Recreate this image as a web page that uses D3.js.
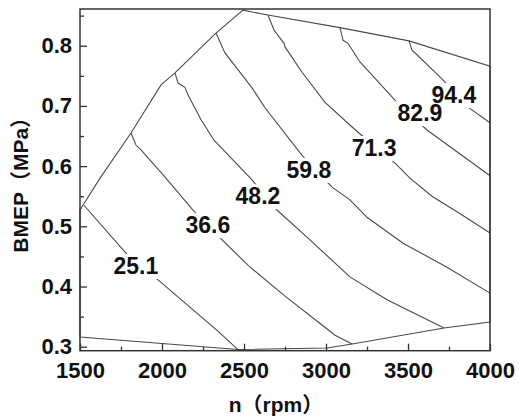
<!DOCTYPE html>
<html>
<head>
<meta charset="utf-8">
<script src="https://cdn.jsdelivr.net/npm/d3@7"></script>
<style>
  html, body { margin: 0; padding: 0; background: #fff; }
  svg { display: block; }
</style>
</head>
<body>
<svg id="chart" width="519" height="416"></svg>
<script>
// ---- Data (rpm, BMEP MPa) ----
const xMajorTicks = [1500, 2000, 2500, 3000, 3500, 4000];
const xMinorTicks = [1750, 2250, 2750, 3250, 3750];
const yMajorTicks = [0.3, 0.4, 0.5, 0.6, 0.7, 0.8];
const yMinorTicks = [0.35, 0.45, 0.55, 0.65, 0.75, 0.85];

// operating-region boundary
const boundary = [
  [1500, 0.527], [1622, 0.580], [1811, 0.655], [1994, 0.735], [2079, 0.755],
  [2329, 0.821], [2494, 0.859], [2646, 0.851], [3085, 0.830], [3506, 0.808],
  [4000, 0.766], [4000, 0.341], [3720, 0.331], [3159, 0.3045], [3006, 0.298],
  [2463, 0.2953], [1500, 0.316]
];

const contourLevels = ["25.1", "36.6", "48.2", "59.8", "71.3", "82.9", "94.4"];

const c251 = [[1524, 0.535], [1811, 0.446], [1976, 0.411], [2341, 0.326], [2463, 0.2953]];
const c366 = [[1811, 0.655], [1841, 0.635], [1872, 0.627], [2024, 0.580], [2189, 0.527],
              [2354, 0.481], [2530, 0.434], [2750, 0.384], [2976, 0.336], [3055, 0.319], [3159, 0.3045]];
const c482 = [[2079, 0.755], [2098, 0.738], [2140, 0.731], [2159, 0.718], [2238, 0.677],
              [2250, 0.672], [2317, 0.643], [2549, 0.577], [2689, 0.530], [2884, 0.482],
              [3146, 0.416], [3372, 0.378], [3720, 0.331]];
const c598 = [[2329, 0.821], [2384, 0.788], [2549, 0.730], [2628, 0.697], [2854, 0.618],
              [3037, 0.565], [3146, 0.544], [3250, 0.515], [3470, 0.472], [3738, 0.432], [4000, 0.389]];
const c713 = [[2646, 0.851], [2683, 0.826], [2744, 0.804], [2750, 0.798], [2854, 0.756],
              [2994, 0.706], [3159, 0.665], [3201, 0.655], [3421, 0.605], [3512, 0.580],
              [3646, 0.550], [3811, 0.522], [4000, 0.489]];
const c829 = [[3085, 0.830], [3104, 0.809], [3134, 0.804], [3207, 0.773], [3433, 0.706],
              [3616, 0.660], [4000, 0.584]];
const c944 = [[3506, 0.808], [3524, 0.793], [3707, 0.745], [3866, 0.698], [4000, 0.672]];
const contourLines = [c251, c366, c482, c598, c713, c829, c944];

// label anchor positions (rpm, MPa)
const labelRpm  = [1841, 2280, 2585, 2896, 3293, 3573, 3780];
const labelBmep = [0.434, 0.502, 0.550, 0.594, 0.630, 0.688, 0.718];

// ---- Drawing ----
const svg = d3.select("#chart");
const pLeft = 80, pRight = 490, pTop = 9, pBottom = 350.7;
const x = d3.scaleLinear().domain([1500, 4000]).range([pLeft, pRight]);
const y = d3.scaleLinear().domain([0.2934, 0.861]).range([pBottom, pTop]);

const font = "'Liberation Sans', Arial, 'Noto Sans CJK SC', sans-serif";
const lineColor = "#4a4a4a";

const line = d3.line().x(d => x(d[0])).y(d => y(d[1]));

// boundary
svg.append("path")
  .attr("d", line(boundary) + "Z")
  .attr("fill", "none")
  .attr("stroke", lineColor)
  .attr("stroke-width", 1.1);

// contours
svg.append("g").selectAll("path")
  .data(contourLines)
  .join("path")
  .attr("d", d => line(d))
  .attr("fill", "none")
  .attr("stroke", lineColor)
  .attr("stroke-width", 1.1);

// contour labels with white background (all backgrounds first, then texts)
const rectLayer = svg.append("g");
const textLayer = svg.append("g");
contourLevels.forEach((lab, i) => {
  const t = textLayer.append("text")
    .attr("x", x(labelRpm[i]))
    .attr("y", y(labelBmep[i]))
    .attr("text-anchor", "middle")
    .attr("dominant-baseline", "central")
    .attr("font-family", font)
    .attr("font-weight", "bold")
    .attr("font-size", 23)
    .attr("fill", "#111")
    .text(lab);
  const bb = t.node().getBBox();
  rectLayer.append("rect")
    .attr("x", bb.x - 4).attr("y", bb.y + 1)
    .attr("width", bb.width + 8).attr("height", bb.height - 1)
    .attr("fill", "#fff");
});

// axes
function styleAxis(g) {
  g.select(".domain").remove();
  g.selectAll(".tick line").attr("stroke", "#333").attr("stroke-width", 1.3);
  g.selectAll(".tick text")
    .attr("font-family", font)
    .attr("font-weight", "bold")
    .attr("font-size", 22)
    .attr("fill", "#111");
}

svg.append("g")
  .attr("transform", `translate(0,${pBottom})`)
  .call(d3.axisBottom(x).tickValues(xMajorTicks).tickSize(-7).tickPadding(12).tickFormat(d3.format("d")))
  .call(styleAxis);
svg.append("g")
  .attr("transform", `translate(0,${pBottom})`)
  .call(d3.axisBottom(x).tickValues(xMinorTicks).tickSize(-4).tickFormat(""))
  .call(styleAxis);

svg.append("g")
  .attr("transform", `translate(${pLeft},0)`)
  .call(d3.axisLeft(y).tickValues(yMajorTicks).tickSize(-7).tickPadding(8).tickFormat(d3.format(".1f")))
  .call(styleAxis);
svg.append("g")
  .attr("transform", `translate(${pLeft},0)`)
  .call(d3.axisLeft(y).tickValues(yMinorTicks).tickSize(-4).tickFormat(""))
  .call(styleAxis);

// frame
svg.append("rect")
  .attr("x", pLeft).attr("y", pTop)
  .attr("width", pRight - pLeft).attr("height", pBottom - pTop)
  .attr("fill", "none")
  .attr("stroke", "#333")
  .attr("stroke-width", 1.5);

// axis titles
svg.append("text")
  .attr("x", 276).attr("y", 412)
  .attr("text-anchor", "middle")
  .attr("font-family", font)
  .attr("font-weight", "bold")
  .attr("font-size", 21)
  .attr("fill", "#111")
  .text("n（rpm）");

svg.append("text")
  .attr("transform", `translate(28,${(pTop + pBottom) / 2}) rotate(-90)`)
  .attr("text-anchor", "middle")
  .attr("font-family", font)
  .attr("font-weight", "bold")
  .attr("font-size", 21)
  .attr("fill", "#111")
  .text("BMEP（MPa）");
</script>
</body>
</html>
